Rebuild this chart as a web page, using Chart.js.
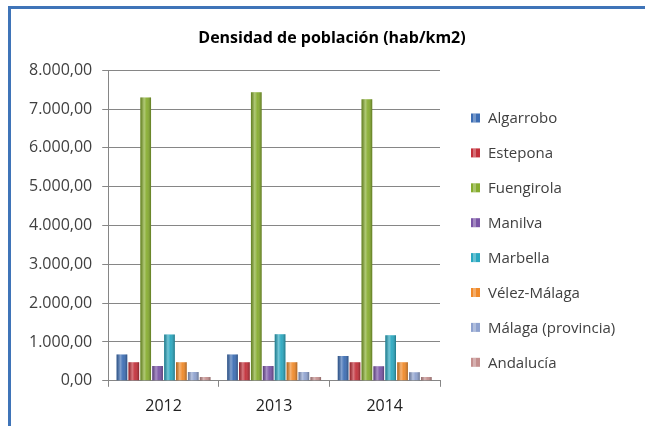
<!DOCTYPE html>
<html>
<head>
<meta charset="utf-8">
<script src="https://cdn.jsdelivr.net/npm/chart.js@4.4.0/dist/chart.umd.min.js"></script>
<style>
  html, body { margin: 0; padding: 0; background: #fff; }
  #frame {
    position: absolute; left: 8px; top: 6px; width: 637px; height: 420px;
    border-left: 3px solid #3f74b8; border-top: 3px solid #3f74b8;
    box-sizing: border-box; background: #fff;
  }
  #wrap { position: absolute; left: 0; top: 0; width: 634px; height: 417px; }
</style>
</head>
<body>
<div id="frame"><div id="wrap"><canvas id="chart"></canvas></div></div>
<script>
"use strict";

// data
var years = ["2012", "2013", "2014"];
var names = ["Algarrobo", "Estepona", "Fuengirola", "Manilva", "Marbella", "Vélez-Málaga", "Málaga (provincia)", "Andalucía"];
var algarrobo = [680, 680, 640];
var estepona = [480, 480, 475];
var fuengirola = [7300, 7430, 7250];
var manilva = [380, 380, 375];
var marbella = [1190, 1200, 1170];
var velez = [480, 480, 475];
var malagaProv = [225, 225, 223];
var andalucia = [96, 96, 96];
var yTicks = [0, 1000, 2000, 3000, 4000, 5000, 6000, 7000, 8000];

var colors = ["#3d6eb4", "#c3303a", "#86ac2e", "#7a55a6", "#2aa8c0", "#f08a2a", "#8ea2cf", "#c48f8e"];
var series = [algarrobo, estepona, fuengirola, manilva, marbella, velez, malagaProv, andalucia];

// 1.000,00 style
function fmt(v) {
    var s = Math.round(v).toString().replace(/\B(?=(\d{3})+(?!\d))/g, ".");
    return s + ",00";
}

// cylinder-ish shading on top of every bar
var shade = {
    id: "shade",
    afterDatasetsDraw: function(chart) {
        var c = chart.ctx;
        chart.data.datasets.forEach(function(ds, i) {
            chart.getDatasetMeta(i).data.forEach(function(bar) {
                var l = bar.x - bar.width / 2, w = bar.width;
                var g = c.createLinearGradient(l, 0, l + w, 0);
                g.addColorStop(0, "rgba(0,0,0,0.25)");
                g.addColorStop(0.35, "rgba(255,255,255,0.35)");
                g.addColorStop(0.6, "rgba(255,255,255,0.05)");
                g.addColorStop(1, "rgba(0,0,0,0.3)");
                c.save();
                c.fillStyle = g;
                c.fillRect(l, bar.y, w, bar.base - bar.y);
                c.restore();
            });
        });
    }
};

// legend on the right, drawn in the space kept by the spacer axis
var sideLegend = {
    id: "sideLegend",
    afterDraw: function(chart) {
        var c = chart.ctx;
        var bx = chart.chartArea.right + 31, y0 = 109, step = 34.9;
        c.save();
        c.font = "15px 'Open Sans', sans-serif";
        c.textBaseline = "middle";
        chart.data.datasets.forEach(function(ds, i) {
            var y = y0 + i * step;
            c.fillStyle = ds.backgroundColor;
            c.fillRect(bx, y - 4.5, 9, 9);
            c.fillStyle = "rgba(255,255,255,0.3)";
            c.fillRect(bx + 2, y - 4.5, 3, 9);
            c.fillStyle = "#404040";
            c.fillText(ds.label, bx + 17, y + 1);
        });
        c.restore();
    }
};

Chart.defaults.font.family = "'Open Sans', 'Liberation Sans', sans-serif";
Chart.defaults.color = "#404040";

new Chart(document.getElementById("chart"), {
    type: "bar",
    data: {
        labels: years,
        datasets: names.map(function(n, i) {
            return {
                label: n,
                data: series[i],
                backgroundColor: colors[i],
                barPercentage: 0.9,
                categoryPercentage: 0.86
            };
        })
    },
    options: {
        responsive: true,
        maintainAspectRatio: false,
        animation: false,
        layout: { padding: { left: 8, right: 0, top: 0, bottom: 0 } },
        plugins: {
            title: {
                display: true,
                text: "Densidad de población (hab/km2)",
                color: "#000",
                font: { size: 16, weight: "bold" },
                padding: { top: 20, bottom: 22 }
            },
            legend: { display: false },
            tooltip: { enabled: false }
        },
        scales: {
            x: {
                grid: { display: true, drawOnChartArea: false, offset: true, color: "#868686", tickLength: 6 },
                border: { color: "#868686" },
                ticks: { font: { size: 16 }, color: "#222", padding: 10 }
            },
            y: {
                min: 0,
                max: 8000,
                afterBuildTicks: function(axis) {
                    axis.ticks = yTicks.map(function(v) { return { value: v }; });
                },
                grid: { color: "#868686", tickLength: 6 },
                border: { color: "#868686" },
                ticks: {
                    font: { size: 16 },
                    color: "#404040",
                    padding: 10,
                    callback: function(v) { return fmt(v); }
                }
            },
            // empty axis on the right that only keeps room for the legend
            spacer: {
                type: "linear",
                position: "right",
                grid: { display: false },
                border: { display: false },
                ticks: { display: false },
                afterFit: function(axis) { axis.width = 205; }
            }
        }
    },
    plugins: [shade, sideLegend]
});
</script>
</body>
</html>
